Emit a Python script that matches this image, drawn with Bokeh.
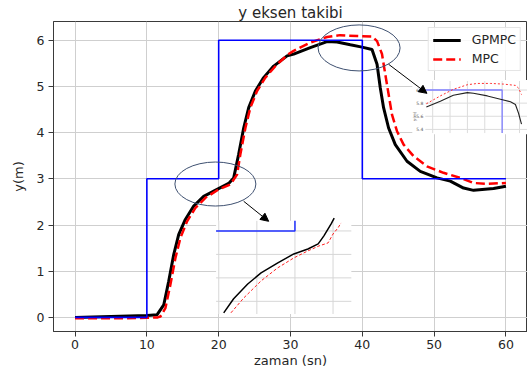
from bokeh.plotting import figure
from bokeh.models import Range1d, FixedTicker, Arrow, NormalHead, Legend, LegendItem
from bokeh.core.properties import value
from bokeh.embed import file_html
from bokeh.resources import INLINE
import math

# ---------------- data ----------------
ref_t = [0, 10, 20, 40, 60]
ref_y = [0, 3, 6, 3, 3]

gp_t = [0, 5, 10.03, 11.43, 12.35, 13.04, 13.74, 14.43, 15.36, 16.52, 17.91, 19.78,
        21.39, 22.09, 22.78, 23.48, 24.18, 25.11, 26.26, 27.66, 29.52, 30.44, 32.76,
        35.09, 36.48, 38.33, 39.96, 41.35, 42.05, 42.5, 42.96, 43.66, 44.59, 46.22,
        48.07, 50.4, 52.25, 54.1, 55.49, 58.27, 60]
gp_y = [0.0, 0.02, 0.04, 0.06, 0.27, 0.78, 1.36, 1.79, 2.12, 2.41, 2.62, 2.77,
        2.90, 3.02, 3.53, 4.10, 4.54, 4.90, 5.19, 5.44, 5.66, 5.70, 5.84,
        5.97, 5.96, 5.90, 5.85, 5.80, 5.48, 4.97, 4.54, 4.10, 3.74, 3.38,
        3.16, 3.02, 2.95, 2.80, 2.75, 2.79, 2.84]

mpc_t = [0, 5, 10, 11.5, 11.89, 12.58, 13.28, 13.97, 14.67, 15.6, 16.76, 18.15, 20.0,
         21.63, 22.56, 23.02, 23.72, 24.41, 25.34, 26.5, 28.13, 29.74, 30.44, 32.76,
         35.09, 36.9, 39.26, 41.35, 42.05, 42.74, 43.2, 43.66, 44.13, 44.83, 45.75,
         47.14, 49.0, 51.3, 53.64, 55.49, 57.36, 60]
mpc_y = [-0.02, -0.02, -0.01, 0.0, 0.02, 0.20, 0.71, 1.28, 1.72, 2.08, 2.37, 2.59, 2.77,
         2.88, 3.09, 3.53, 4.10, 4.54, 4.90, 5.19, 5.48, 5.70, 5.77, 5.95,
         6.07, 6.11, 6.09, 6.08, 5.98, 5.70, 5.26, 4.83, 4.39, 4.03, 3.74,
         3.49, 3.27, 3.13, 3.02, 2.91, 2.89, 2.91]

# inset 1 (zoom near t=20)
ins1_gp_t = [18.13, 18.39, 18.76, 19.11, 19.55, 19.97, 20.34, 20.61, 20.76, 20.95, 21.03]
ins1_gp_y = [2.651, 2.711, 2.774, 2.821, 2.864, 2.902, 2.923, 2.945, 2.979, 3.030, 3.055]
ins1_mpc_t = [18.32, 18.66, 19.11, 19.55, 19.97, 20.34, 20.63, 20.87, 21.0, 21.13, 21.21]
ins1_mpc_y = [2.651, 2.715, 2.787, 2.843, 2.885, 2.915, 2.936, 2.949, 2.987, 3.013, 3.034]
ins1_xticks = [18, 19, 20, 21]
ins1_yticks = [2.7, 2.8, 2.9, 3.0]

# inset 2 (zoom near t=40)
ins2_gp_t = [31.27, 32.88, 34.38, 35.99, 36.69, 38.3, 39.8, 40.96, 41.53, 41.88, 42.23]
ins2_gp_y = [5.74, 5.83, 5.92, 5.96, 5.95, 5.91, 5.86, 5.82, 5.78, 5.65, 5.48]
ins2_mpc_t = [31.27, 32.88, 34.38, 35.99, 37.14, 38.65, 40.15, 41.53, 41.88, 42.23]
ins2_mpc_y = [5.79, 5.91, 6.01, 6.08, 6.10, 6.10, 6.09, 6.07, 6.03, 5.93]
ins2_xticks = [32, 34, 36, 38, 40, 42]
ins2_yticks = [6.0, 5.8, 5.6, 5.4]
ins2_ylabels = ["6.0", "5.8", "5.6", "5.4"]

# ---------------- layout constants ----------------
FONT = "DejaVu Sans"
TXT = "#262626"
INS1_OWN = (17.93, 21.48, 2.646, 3.043)      # inset 1 own window
INS1_BOX = (19.64, 38.47, 0.074, 2.09)        # where it sits in main data coords
INS1_OWN_TALL = (17.93, 21.48, 2.646, 3.06)
INS1_BOX_TALL = (19.64, 38.47, 0.074, 2.09 + 0.017 / 0.397 * 2.016)
INS2_OWN = (31.15, 42.92, 5.344, 6.137)
INS2_BOX = (48.77, 63.0, 3.99, 5.117)
INS2_BG = (46.96, 63.0, 3.967, 5.139)


def clip_poly(xs, ys, win):
    x0, x1, y0, y1 = win
    out_x, out_y, cx, cy = [], [], [], []
    for i in range(len(xs) - 1):
        ax, ay, bx, by = xs[i], ys[i], xs[i + 1], ys[i + 1]
        dx, dy = bx - ax, by - ay
        t0, t1, ok = 0.0, 1.0, True
        for pp, qq in ((-dx, ax - x0), (dx, x1 - ax), (-dy, ay - y0), (dy, y1 - ay)):
            if pp == 0:
                if qq < 0:
                    ok = False
                    break
            else:
                t = qq / pp
                if pp < 0:
                    if t > t1:
                        ok = False
                        break
                    t0 = max(t0, t)
                else:
                    if t < t0:
                        ok = False
                        break
                    t1 = min(t1, t)
        if not ok:
            if cx:
                out_x.append(cx); out_y.append(cy); cx, cy = [], []
            continue
        if not cx or t0 > 0:
            if cx:
                out_x.append(cx); out_y.append(cy)
            cx, cy = [ax + t0 * dx], [ay + t0 * dy]
        cx.append(ax + t1 * dx); cy.append(ay + t1 * dy)
        if t1 < 1:
            out_x.append(cx); out_y.append(cy); cx, cy = [], []
    if cx:
        out_x.append(cx); out_y.append(cy)
    return out_x, out_y


def mapper(own, box):
    ox0, ox1, oy0, oy1 = own
    bx0, bx1, by0, by1 = box
    fx = lambda v: bx0 + (v - ox0) / (ox1 - ox0) * (bx1 - bx0)
    fy = lambda v: by0 + (v - oy0) / (oy1 - oy0) * (by1 - by0)
    return fx, fy


def step_vertices(t, y):
    vx, vy = [], []
    for i in range(len(t) - 1):
        vx += [t[i], t[i + 1]]
        vy += [y[i], y[i]]
    vx.append(t[-1]); vy.append(y[-1])
    return vx, vy


def draw_clipped(p, xs, ys, own, box, **kw):
    fx, fy = mapper(own, box)
    cx, cy = clip_poly(xs, ys, own)
    mx = [[fx(v) for v in seg] for seg in cx]
    my = [[fy(v) for v in seg] for seg in cy]
    p.multi_line(mx, my, **kw)


# ---------------- figure ----------------
p = figure(width=527, height=375, x_range=Range1d(-3, 63), y_range=Range1d(-0.305, 6.405),
           output_backend="svg", toolbar_location=None, title="y eksen takibi",
           min_border_left=53, min_border_right=0, min_border_top=21, min_border_bottom=44)

p.title.align = "center"
p.title.text_font = FONT
p.title.text_font_size = "15px"
p.title.text_font_style = "normal"
p.title.text_color = TXT
p.title.standoff = 0

p.outline_line_color = "#3a3a3a"
p.outline_line_width = 1
p.background_fill_color = "white"
p.border_fill_color = "white"

p.xaxis.ticker = FixedTicker(ticks=[0, 10, 20, 30, 40, 50, 60])
p.yaxis.ticker = FixedTicker(ticks=[0, 1, 2, 3, 4, 5, 6])
for ax in (p.xaxis[0], p.yaxis[0]):
    ax.axis_line_color = "#3a3a3a"
    ax.major_tick_line_color = "#3a3a3a"
    ax.major_tick_out = 5
    ax.major_tick_in = 0
    ax.minor_tick_line_color = None
    ax.major_label_text_font = FONT
    ax.major_label_text_font_size = "12.5px"
    ax.major_label_text_color = TXT
    ax.axis_label_text_font = FONT
    ax.axis_label_text_font_size = "13px"
    ax.axis_label_text_font_style = "normal"
    ax.axis_label_text_color = TXT
p.xaxis.axis_label = "zaman (sn)"
p.yaxis.axis_label = "y(m)"
p.xaxis.major_label_standoff = 3
p.xaxis.axis_label_standoff = 1
p.yaxis.major_label_standoff = 4
p.yaxis.axis_label_standoff = 8

p.grid.grid_line_color = "#cfcfcf"
p.grid.grid_line_width = 1

# main curves
r_gp = p.line(gp_t, gp_y, line_color="black", line_width=3)
r_mpc = p.line(mpc_t, mpc_y, line_color="#ff0000", line_width=2.5, line_dash="9 4")
p.step(ref_t, ref_y, mode="after", line_color="#0000ff", line_width=1.6)

# inset 1
fx1, fy1 = mapper(INS1_OWN, INS1_BOX)
p.quad(left=[INS1_BOX[0]], right=[INS1_BOX[1]], bottom=[INS1_BOX[2]], top=[INS1_BOX[3]],
       fill_color="white", line_color=None)
p.segment(x0=[fx1(v) for v in ins1_xticks], x1=[fx1(v) for v in ins1_xticks],
          y0=[INS1_BOX[2]] * len(ins1_xticks), y1=[INS1_BOX[3]] * len(ins1_xticks),
          line_color="#d6d6d6", line_width=1)
p.segment(x0=[INS1_BOX[0]] * len(ins1_yticks), x1=[INS1_BOX[1]] * len(ins1_yticks),
          y0=[fy1(v) for v in ins1_yticks], y1=[fy1(v) for v in ins1_yticks],
          line_color="#d6d6d6", line_width=1)
rvx, rvy = step_vertices(ref_t, ref_y)
draw_clipped(p, rvx, rvy, INS1_OWN, INS1_BOX, line_color="#2030ff", line_width=1.5)
draw_clipped(p, ins1_gp_t, ins1_gp_y, INS1_OWN_TALL, INS1_BOX_TALL,
             line_color="black", line_width=1.5)
draw_clipped(p, ins1_mpc_t, ins1_mpc_y, INS1_OWN, INS1_BOX, line_color="#ff2020",
             line_width=1, line_dash="3 2")

# inset 2
fx2, fy2 = mapper(INS2_OWN, INS2_BOX)
p.quad(left=[INS2_BG[0]], right=[INS2_BG[1]], bottom=[INS2_BG[2]], top=[INS2_BG[3]],
       fill_color="white", line_color=None)
p.segment(x0=[fx2(v) for v in ins2_xticks], x1=[fx2(v) for v in ins2_xticks],
          y0=[INS2_BOX[2]] * len(ins2_xticks), y1=[INS2_BOX[3]] * len(ins2_xticks),
          line_color="#dcdcdc", line_width=1)
p.segment(x0=[INS2_BOX[0]] * len(ins2_yticks), x1=[INS2_BOX[1]] * len(ins2_yticks),
          y0=[fy2(v) for v in ins2_yticks], y1=[fy2(v) for v in ins2_yticks],
          line_color="#dcdcdc", line_width=1)
draw_clipped(p, rvx, rvy, INS2_OWN, INS2_BOX, line_color="#7f7fff", line_width=1.3)
draw_clipped(p, ins2_gp_t, ins2_gp_y, INS2_OWN, INS2_BOX, line_color="#222222", line_width=1.1)
draw_clipped(p, ins2_mpc_t, ins2_mpc_y, INS2_OWN, INS2_BOX, line_color="#ff3030",
             line_width=1, line_dash="2 2")
p.text(x=[INS2_BOX[0]] * len(ins2_yticks), y=[fy2(v) for v in ins2_yticks], text=ins2_ylabels,
       text_font=value(FONT), text_font_size=value("4.5px"), text_align="right",
       text_baseline="middle", text_color="#555555", x_offset=-2)
p.text(x=[INS2_BG[0]], y=[fy2(5.6)], text=["y(m)"], angle=math.pi / 2,
       text_font=value(FONT), text_font_size=value("4px"), text_align="center",
       text_baseline="middle", text_color="#555555", x_offset=2)

# highlight ellipses and arrows
p.ellipse(x=[19.54, 39.55], y=[2.887, 5.833], width=[81, 82], height=[44, 46],
          width_units="screen", height_units="screen",
          fill_color=None, line_color="#3e5070", line_width=1)
for xs, ys, xe, ye in ((23.48, 2.514, 26.96, 2.08), (43.66, 5.479, 49.0, 4.85)):
    p.add_layout(Arrow(end=NormalHead(size=8, fill_color="black", line_color="black"),
                       x_start=xs, y_start=ys, x_end=xe, y_end=ye,
                       line_color="black", line_width=1))

legend = Legend(items=[LegendItem(label="GPMPC", renderers=[r_gp]),
                       LegendItem(label="MPC", renderers=[r_mpc])],
                location="top_right")
legend.label_text_font = FONT
legend.label_text_font_size = "12.5px"
legend.label_text_color = TXT
legend.glyph_width = 28
legend.glyph_height = 14
legend.label_standoff = 11
legend.padding = 4
legend.spacing = 4
legend.margin = 6
legend.border_line_color = "#cccccc"
legend.background_fill_alpha = 0.85
p.add_layout(legend)

open("out.html", "w").write(file_html(p, INLINE))
